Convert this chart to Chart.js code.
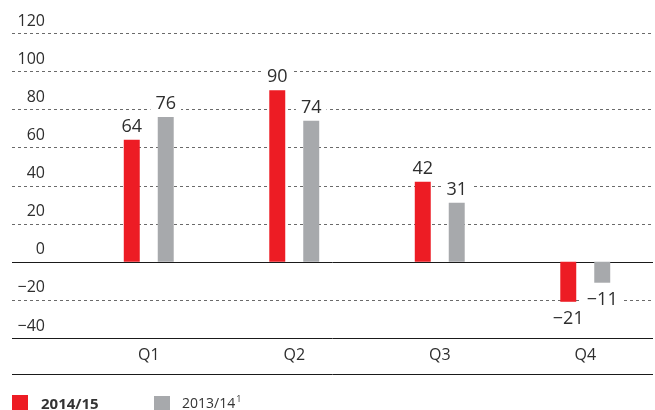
<!DOCTYPE html>
<html>
<head>
<meta charset="utf-8">
<script src="https://cdn.jsdelivr.net/npm/chart.js@4"></script>
<style>
  html, body { margin: 0; padding: 0; background: #fff; overflow: hidden; width: 655px; height: 410px; }
  #wrap { position: relative; width: 660px; height: 410px; }
  #legend { position: absolute; left: 0; top: 0; width: 655px; height: 410px; pointer-events: none; font-family: "Open Sans", sans-serif; color: #333; }
  .sw { position: absolute; width: 16px; height: 16px; }
  .lt { position: absolute; line-height: 16px; white-space: nowrap; }
  sup { font-size: 9px; vertical-align: 0; position: relative; top: -6px; margin-left: 1px; }
</style>
</head>
<body>
<div id="wrap">
  <canvas id="c" width="660" height="410"></canvas>
  <div id="legend"></div>
</div>
<script>
const categories = ["Q1", "Q2", "Q3", "Q4"];
const series2014 = [64, 90, 42, -21];
const series2013 = [76, 74, 31, -11];
const seriesNames = ["2014/15", "2013/14"];
const yTicks = [120, 100, 80, 60, 40, 20, 0, -20, -40];

const RED = "#ED1C24";
const GRAY = "#A7A9AC";
const TEXT = "#2e2e2e";

function fmt(v) { return String(v).replace("-", "\u2212"); }

const gridPlugin = {
  id: "extGrid",
  beforeDatasetsDraw(chart) {
    const ctx = chart.ctx;
    const y = chart.scales.y;
    const x = chart.scales.x;
    const x0 = 12, x1 = 653;
    ctx.save();
    yTicks.forEach(v => {
      const py = Math.round(y.getPixelForValue(v)) + 0.5;
      ctx.beginPath();
      if (v === 0 || v === y.min) {
        ctx.setLineDash([]);
        ctx.strokeStyle = "#1a1a1a";
      } else {
        ctx.setLineDash([3, 3]);
        ctx.strokeStyle = "#6a6a6a";
      }
      ctx.lineWidth = 1;
      ctx.moveTo(x0, py);
      ctx.lineTo(x1, py);
      ctx.stroke();
    });
    ctx.setLineDash([]);
    ctx.strokeStyle = "#1a1a1a";
    const pb = Math.round(x.bottom) + 0.5;
    ctx.beginPath();
    ctx.moveTo(x0, pb);
    ctx.lineTo(x1, pb);
    ctx.stroke();
    ctx.restore();
  },
  afterDatasetsDraw(chart) {
    const ctx = chart.ctx;
    ctx.save();
    ctx.font = "18px 'Open Sans'";
    ctx.textAlign = "center";
    ctx.textBaseline = "alphabetic";
    chart.data.datasets.forEach((ds, di) => {
      const meta = chart.getDatasetMeta(di);
      meta.data.forEach((el, i) => {
        const v = ds.data[i];
        const txt = fmt(v);
        const w = ctx.measureText(txt).width;
        const base = v >= 0 ? el.y - 8 : el.y + 22;
        const top = base - 14;
        ctx.fillStyle = "#ffffff";
        ctx.fillRect(el.x - w / 2 - 5, top - 2, w + 10, 18);
        ctx.fillStyle = TEXT;
        ctx.fillText(txt, el.x, base);
      });
    });
    ctx.restore();
  }
};

new Chart(document.getElementById("c"), {
  type: "bar",
  data: {
    labels: categories,
    datasets: [
      { label: seriesNames[0], data: series2014, backgroundColor: RED, borderWidth: 0,
        barPercentage: 0.47, categoryPercentage: 0.467 },
      { label: seriesNames[1], data: series2013, backgroundColor: GRAY, borderWidth: 0,
        barPercentage: 0.47, categoryPercentage: 0.467 }
    ]
  },
  options: {
    responsive: false,
    animation: false,
    devicePixelRatio: 1,
    layout: { padding: { top: 33, right: 2, bottom: 36, left: 0 } },
    plugins: { legend: { display: false }, tooltip: { enabled: false } },
    scales: {
      x: {
        grid: { display: false, drawTicks: false },
        border: { display: false },
        ticks: { color: TEXT, font: { family: "Open Sans", size: 16 }, padding: 8 },
        afterFit(s) { s.height = 36; }
      },
      y: {
        min: -40, max: 120,
        grid: { display: false, drawTicks: true, tickLength: 31 },
        border: { display: false },
        ticks: {
          stepSize: 20, color: TEXT, padding: 0, labelOffset: -12,
          font: { family: "Open Sans", size: 16 },
          callback: v => fmt(v)
        },
        afterFit(s) { s.width = 76; }
      }
    }
  },
  plugins: [gridPlugin]
});

const lg = document.getElementById("legend");
lg.innerHTML =
  '<div class="sw" style="left:12px;top:395px;background:' + RED + '"></div>' +
  '<div class="lt" style="left:41px;top:395px;font-weight:700;font-size:15px;">' + seriesNames[0] + '</div>' +
  '<div class="sw" style="left:154px;top:396px;background:' + GRAY + '"></div>' +
  '<div class="lt" style="left:182px;top:395px;font-size:14px;">' + seriesNames[1] + '<sup>1</sup></div>';
</script>
</body>
</html>
